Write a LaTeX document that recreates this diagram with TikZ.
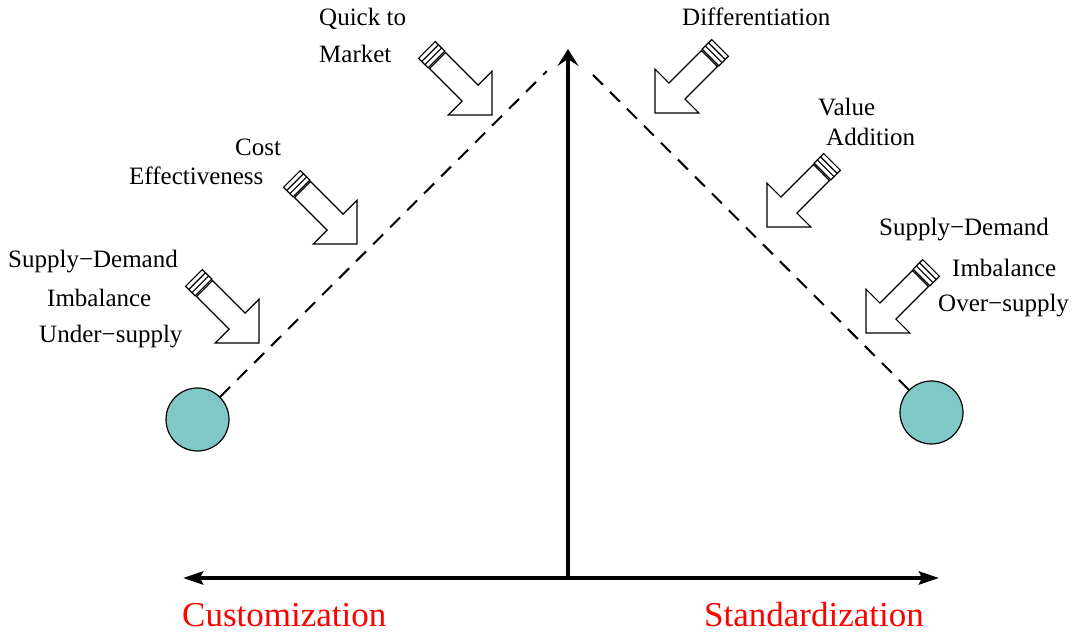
\documentclass[tikz,border=0pt]{standalone}
\usepackage{fontspec}
\setmainfont{Liberation Serif}
\usetikzlibrary{arrows.meta}
\definecolor{ballfill}{RGB}{128,200,198}
\definecolor{axisred}{RGB}{255,0,0}
\tikzset{
  outline/.style={draw=black, line width=1.2pt, line join=miter, fill=white},
  axis/.style={line width=4pt},
  guide/.style={line width=2pt, dash pattern=on 14pt off 10pt},
  ball/.style={circle, draw=black, line width=1.2pt, fill=ballfill, minimum size=63pt, inner sep=0pt},
  lbl/.style={anchor=base west, inner sep=0pt, font=\fontsize{25}{30}\selectfont},
  biglbl/.style={anchor=base west, inner sep=0pt, text=axisred, font=\fontsize{35}{40}\selectfont},
  % block arrow with a striped tail cap; tip at the pic origin, pointing along +x
  blockarrow/.pic={
    \draw[outline] (0,0) -- (-31,31) -- (-31,11.3) -- (-77,11.3) -- (-77,-11.3)
      -- (-31,-11.3) -- (-31,-31) -- cycle;
    \draw[outline] (-78.5,-11.8) rectangle (-92,11.8);
    \draw[line width=1.2pt] (-83,-11.8) -- (-83,11.8) (-87.5,-11.8) -- (-87.5,11.8);
  }
}
\begin{document}
\begin{tikzpicture}[x=1pt, y=1pt]
\useasboundingbox (0,0) rectangle (1074,636);

% axes
\coordinate (origin) at (568,58);
\coordinate (apex) at (568,587);
\coordinate (leftend) at (183,58);
\coordinate (rightend) at (939,58);
\draw[axis, -{Stealth[length=17pt, width=21pt, inset=7pt]}] (origin) -- (apex);
\draw[axis, {Stealth[length=20pt, width=13pt, inset=3pt]}-{Stealth[length=20pt, width=13pt, inset=3pt]}]
  (leftend) -- (rightend);

% end points of the two slopes
\node[ball] (custball) at (197.5,216.5) {};
\node[ball] (stdball) at (931.5,223.5) {};
\coordinate (peak) at (568,586);
\draw[guide, shorten >=30pt] (custball.45) -- (peak);
\draw[guide, shorten >=30pt] (stdball.135) -- (peak);

% pressures toward customization
\pic[rotate=-45] at (492,521) {blockarrow};
\pic[rotate=-45] at (357,392) {blockarrow};
\pic[rotate=-45] at (259,293) {blockarrow};

% pressures toward standardization
\pic[rotate=-135] at (655,523) {blockarrow};
\pic[rotate=-135] at (767,409) {blockarrow};
\pic[rotate=-135] at (866,303) {blockarrow};

% labels, left side
\node[lbl] (quick) at (319,610) {Quick to};
\node[lbl] (market) at (319,573) {Market};
\node[lbl] (cost) at (235,480) {Cost};
\node[lbl] (effect) at (129,451) {Effectiveness};
\node[lbl] (sdleft) at (8,368) {Supply−Demand};
\node[lbl] (imbleft) at (47,329) {Imbalance};
\node[lbl] (under) at (39,293) {Under−supply};

% labels, right side
\node[lbl] (diff) at (682,610) {Differentiation};
\node[lbl] (value) at (818,520) {Value};
\node[lbl] (addition) at (826,490) {Addition};
\node[lbl] (sdright) at (879,400) {Supply−Demand};
\node[lbl] (imbright) at (952,359) {Imbalance};
\node[lbl] (over) at (938,324) {Over−supply};

% axis names
\node[biglbl] (custom) at (182,9) {Customization};
\node[biglbl] (standard) at (704,9) {Standardization};
\end{tikzpicture}
\end{document}
